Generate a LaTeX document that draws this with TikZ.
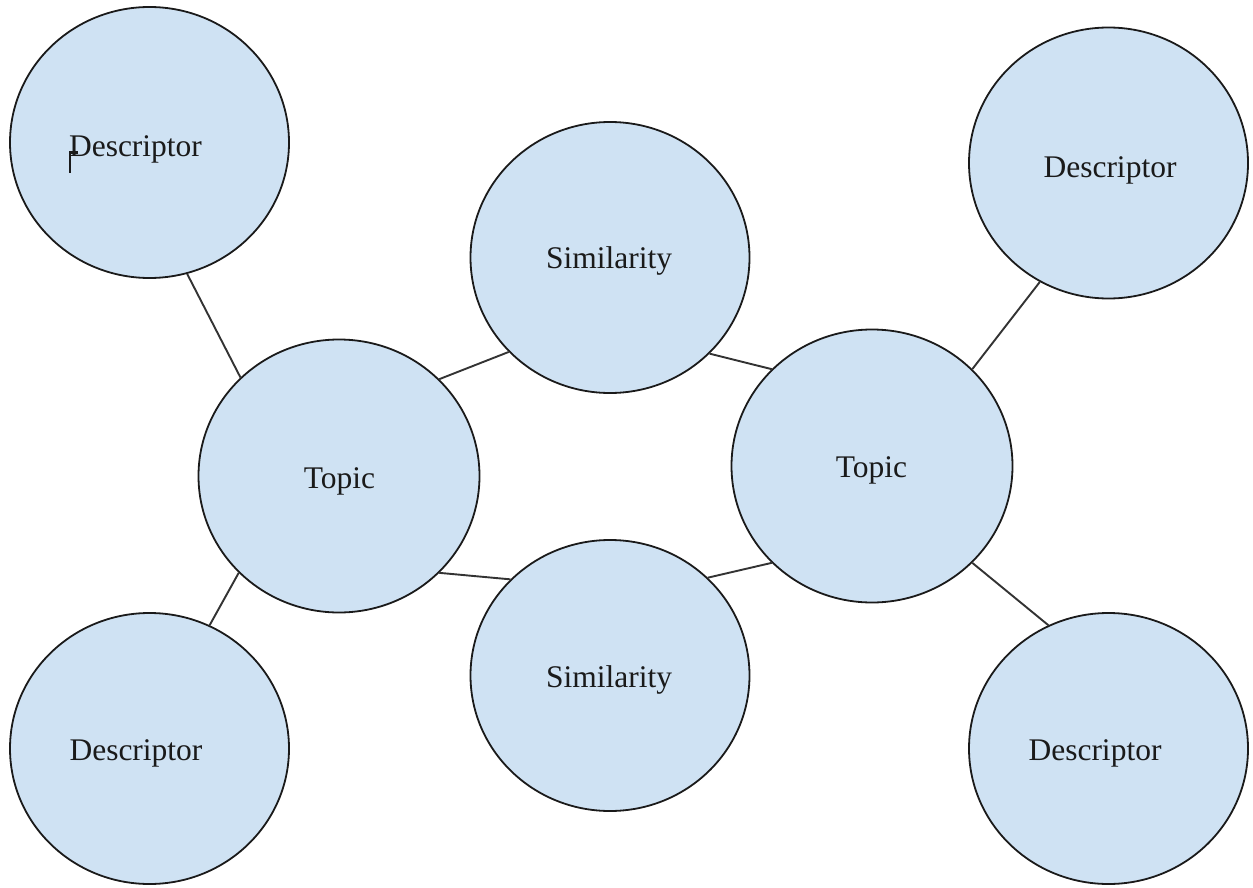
\documentclass[tikz,border=0pt]{standalone}
\usepackage{fontspec}
\setmainfont{Liberation Serif}
\usetikzlibrary{shapes.geometric}
\definecolor{bubblefill}{HTML}{CFE2F3}
\definecolor{ink}{HTML}{1A1A1A}
\definecolor{linkgray}{HTML}{333333}
\begin{document}
\begin{tikzpicture}[x=1pt,y=-1pt,
  bubble/.style={ellipse, draw=ink, line width=1.8pt, fill=bubblefill,
    inner sep=0pt, minimum width=279pt, minimum height=271pt},
  bigbubble/.style={bubble, minimum width=281pt, minimum height=273pt},
  lbl/.style={font=\fontsize{31.5pt}{38pt}\selectfont, text=ink,
    anchor=base, inner sep=0pt},
  link/.style={draw=linkgray, line width=1.9pt}]
\useasboundingbox (0,0) rectangle (1253,888);

% bubble centres
\coordinate (d1c) at (149.5,142.5);
\coordinate (d2c) at (1108.5,163);
\coordinate (d3c) at (149.5,748.5);
\coordinate (d4c) at (1108.5,748.5);
\coordinate (t1c) at (339,476);
\coordinate (t2c) at (872,466);
\coordinate (s1c) at (610,257.5);
\coordinate (s2c) at (610,675.5);

% bubbles
\node[bubble] (d1) at (d1c) {};
\node[bubble] (d2) at (d2c) {};
\node[bubble] (d3) at (d3c) {};
\node[bubble] (d4) at (d4c) {};
\node[bigbubble] (t1) at (t1c) {};
\node[bigbubble] (t2) at (t2c) {};
\node[bubble] (s1) at (s1c) {};
\node[bubble] (s2) at (s2c) {};

% connectors between the bubbles
\draw[link] (d1.-74) -- (t1.135);
\draw[link] (d2.-120) -- (t2.44);
\draw[link] (t1.-136) -- (d3.64);
\draw[link] (t2.-44) -- (d4.116);
\draw[link] (t1.44) -- (s1.-137);
\draw[link] (s1.-44) -- (t2.136);
\draw[link] (t1.-44) -- (s2.136);
\draw[link] (s2.45) -- (t2.-136);

% labels
\node[lbl] (l1) at (135.5,157) {Descriptor};
\node[lbl] (l2) at (1110,177) {Descriptor};
\node[lbl] (l3) at (136,760) {Descriptor};
\node[lbl] (l4) at (1095,760) {Descriptor};
\node[lbl] (l5) at (339.5,488) {Topic};
\node[lbl] (l6) at (871.5,477) {Topic};
\node[lbl] (l7) at (609,268) {Similarity};
\node[lbl] (l8) at (609,687) {Similarity};

% text cursor mark left in the first label
\draw[draw=ink, line width=2.8pt] (78,152.5) -- (70,152.5) -- (70,172.5);
\end{tikzpicture}
\end{document}
